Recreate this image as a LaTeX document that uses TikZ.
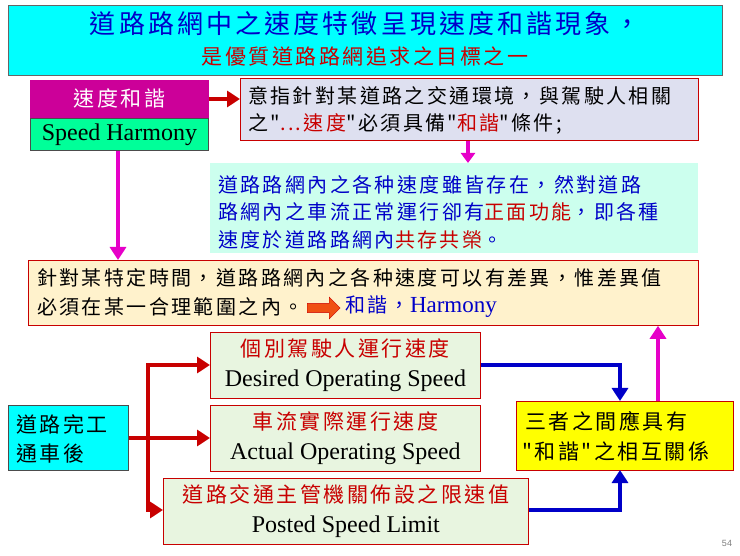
\documentclass[tikz,border=0pt]{standalone}
\usepackage{fontspec}
\setmainfont{Liberation Serif}
\newfontfamily\cjk[LetterSpace=12]{Noto Sans CJK TC}
\usetikzlibrary{arrows.meta,shapes.arrows}
\definecolor{mag}{RGB}{204,0,153}
\definecolor{pink}{RGB}{230,0,200}
\definecolor{tblue}{RGB}{0,0,200}
\definecolor{tred}{RGB}{200,0,0}
\definecolor{cy}{RGB}{0,255,255}
\tikzset{
 box/.style={draw=tred,line width=0.8pt,inner sep=6pt,align=left},
 thick line/.style={line width=4.5pt},
 bigarrow/.style={-{Triangle[length=13pt,width=16pt]},line width=4.5pt},
 ch/.style={font=\cjk\fontsize{20}{28}\selectfont},
 en/.style={font=\fontsize{24}{26}\selectfont},
 txt/.style={inner sep=0pt,anchor=west},
}
\begin{document}
\begin{tikzpicture}[x=1pt,y=-1pt]
\useasboundingbox[fill=white] (0,0) rectangle (740,556);
% title
\node[box,draw=black!60,fill=cy,minimum width=714pt,minimum height=70pt,anchor=north west] (title) at (8,5) {};
\node[font=\cjk\fontsize{26}{30}\selectfont,text=tblue] (t1) at (365,24) {道路路網中之速度特徵呈現速度和諧現象，};
\node[font=\cjk\fontsize{21}{24}\selectfont,text=tred] (t2) at (365,57) {是優質道路路網追求之目標之一};
% speed harmony
\node[box,draw=mag,fill=mag,minimum width=178pt,minimum height=37pt,anchor=north west,text=white,font=\cjk\fontsize{21}{24}\selectfont,align=center] (sh) at (30,80) {速度和諧};
\node[box,draw=black!70,fill={rgb,255:red,0;green,255;blue,153},inner sep=2pt,minimum width=178pt,minimum height=32pt,anchor=north west,en,align=center] (she) at (30,118) {Speed Harmony};
% definition
\node[box,fill={rgb,255:red,222;green,224;blue,240},minimum width=458pt,minimum height=62pt,anchor=north west] (def) at (240,78) {};
\node[txt,ch] (d1) at (248,96) {意指針對某道路之交通環境，與駕駛人相關};
\node[txt,ch] (d2) at (248,124) {之"{\color{tred}...速度}"必須具備"{\color{tred}和諧}"條件;};
\draw[bigarrow,tred] (sh.east|-99,99) -- (def.west|-99,99);
% green box
\node[box,draw=none,fill={rgb,255:red,204;green,255;blue,238},minimum width=488pt,minimum height=90pt,anchor=north west] (grn) at (210,163) {};
\node[txt,ch,text=tblue] (g1) at (218,185) {道路路網內之各种速度雖皆存在，然對道路};
\node[txt,ch,text=tblue] (g2) at (218,212) {路網內之車流正常運行卻有{\color{tred}正面功能}，即各種};
\node[txt,ch,text=tblue] (g3) at (218,240) {速度於道路路網內{\color{tred}共存共榮}。};
\draw[pink,-{Triangle[length=10pt,width=14pt]},line width=4pt] (def.south-|468,140) -- (grn.north-|468,163);
% yellow box
\node[box,fill={rgb,255:red,255;green,242;blue,204},minimum width=670pt,minimum height=65pt,anchor=north west] (yel) at (28,260) {};
\node[txt,ch] (y1) at (37,278) {針對某特定時間，道路路網內之各种速度可以有差異，惟差異值};
\node[txt,ch] (y2) at (37,307) {必須在某一合理範圍之內。};
\node[single arrow,fill={rgb,255:red,240;green,80;blue,20},draw=tred,minimum height=33pt,minimum width=22pt,single arrow head extend=3pt,inner sep=2pt,anchor=west] (oarr) at (307,308) {};
\node[txt,ch,text=tblue] (y3) at (345,307) {和諧，{\fontspec{Liberation Serif}\fontsize{23}{26}\selectfont Harmony}};
\draw[bigarrow,pink] (she.south-|118,150) -- (yel.north-|118,260);
% speeds
\tikzset{sp/.style={box,fill={rgb,255:red,232;green,245;blue,224},minimum height=66pt,anchor=north west,align=center,text=tred,font=\cjk\fontsize{21}{30}\selectfont,inner sep=2pt}}
\node[sp,minimum width=270pt] (s1) at (210,332) {個別駕駛人運行速度\\{\color{black}\fontspec{Liberation Serif}\fontsize{24}{26}\selectfont Desired Operating Speed}};
\node[sp,minimum width=270pt] (s2) at (210,405) {車流實際運行速度\\{\color{black}\fontspec{Liberation Serif}\fontsize{24}{26}\selectfont Actual Operating Speed}};
\node[sp,minimum width=365pt] (s3) at (163,478) {道路交通主管機關佈設之限速值\\{\color{black}\fontspec{Liberation Serif}\fontsize{24}{26}\selectfont Posted Speed Limit}};
% left box
\node[box,draw=black!70,fill=cy,minimum width=120pt,minimum height=65pt,anchor=north west] (road) at (8,405) {};
\node[txt,ch,font=\cjk\fontsize{21}{24}\selectfont] (r1) at (16,424) {道路完工};
\node[txt,ch,font=\cjk\fontsize{21}{24}\selectfont] (r2) at (16,454) {通車後};
% right box
\node[box,fill={rgb,255:red,255;green,255;blue,0},minimum width=217pt,minimum height=69pt,anchor=north west] (rel) at (516,401) {};
\node[txt,ch,font=\cjk\fontsize{21}{24}\selectfont] (q1) at (525,421) {三者之間應具有};
\node[txt,ch,font=\cjk\fontsize{21}{24}\selectfont] (q2) at (522,451) {"和諧"之相互關係};
% red connectors
\coordinate (jt) at (148,365);
\coordinate (jb) at (148,510);
\draw[thick line,tred] (road.east|-148,438) -- (148,438);
\draw[thick line,tred,line cap=rect] (jt) -- (jb);
\draw[bigarrow,tred] (jt) -- (s1.west|-jt);
\draw[bigarrow,tred] (148,438) -- (s2.west|-148,438);
\draw[bigarrow,tred] (jb) -- (s3.west|-jb);
% blue connectors
\draw[bigarrow,tblue] (s1.east|-365,365) -- (620,365) -- (620,401);
\draw[bigarrow,tblue] (s3.east|-510,510) -- (620,510) -- (620,470);
% magenta up
\draw[bigarrow,pink] (rel.north-|658,401) -- (yel.south-|658,325);
\node[font=\fontspec{Liberation Sans}\fontsize{9}{10}\selectfont,text=black!50] (pg) at (727,543) {54};
\end{tikzpicture}
\end{document}
